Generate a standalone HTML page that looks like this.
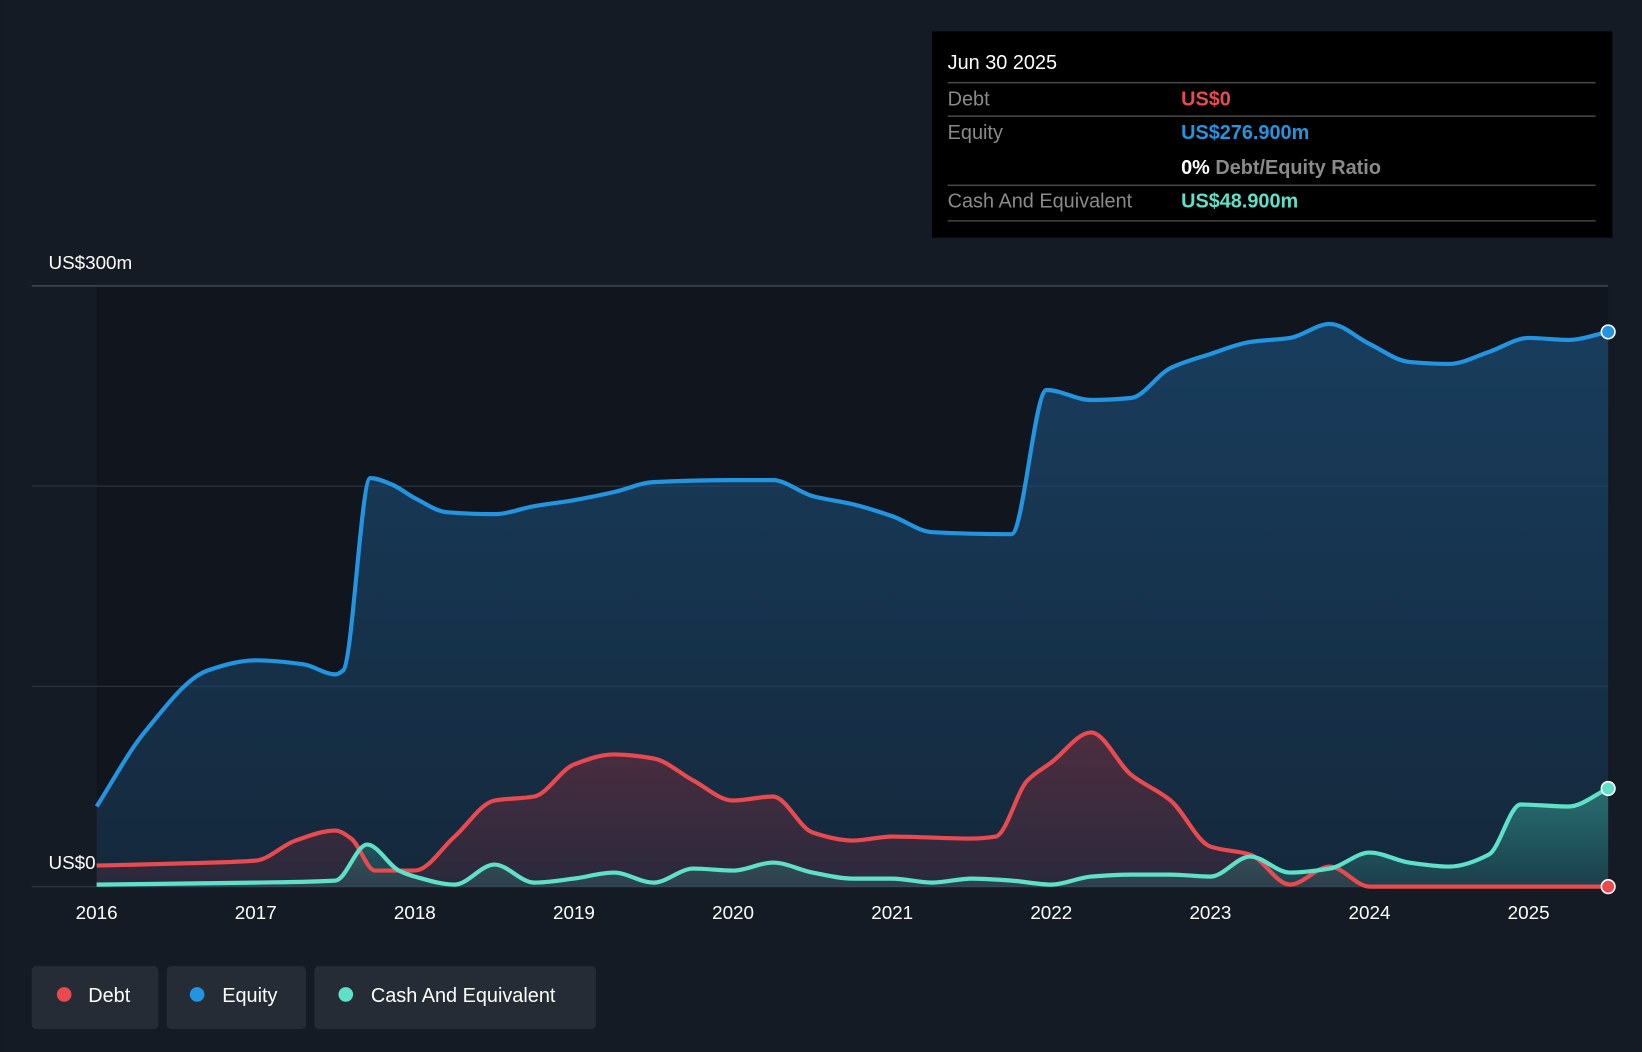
<!DOCTYPE html>
<html><head><meta charset="utf-8"><style>
html,body{margin:0;padding:0;background:#151b24;}
svg{display:block;font-family:"Liberation Sans",sans-serif;}
</style></head><body>
<svg id="chart" width="1642" height="1052" viewBox="0 0 1568 1005" xmlns="http://www.w3.org/2000/svg">
<defs>
<linearGradient id="gE" x1="0" y1="0" x2="0" y2="1"><stop offset="0" stop-color="#1b4a72" stop-opacity="0.75"/><stop offset="1" stop-color="#1b4a72" stop-opacity="0.35"/></linearGradient>
<linearGradient id="gD" x1="0" y1="0" x2="0" y2="1"><stop offset="0" stop-color="#7a2d3a" stop-opacity="0.55"/><stop offset="1" stop-color="#7a2d3a" stop-opacity="0.2"/></linearGradient>
<linearGradient id="gC" x1="0" y1="0" x2="0" y2="1"><stop offset="0" stop-color="#3fbfa8" stop-opacity="0.45"/><stop offset="1" stop-color="#3fbfa8" stop-opacity="0.15"/></linearGradient>
</defs>
<rect x="0" y="0" width="1568" height="1005" fill="#151b24"/>
<rect x="92" y="273" width="1444" height="574" fill="#11161e"/>
<g id="grid"></g>
<g id="areas"></g>
<g id="lines"></g>
<g id="xaxis"></g>
<text x="46" y="257" fill="#fff" font-size="18">US$300m</text>
<text x="46" y="830" fill="#fff" font-size="18">US$0</text>

<g>
<rect x="890" y="30" width="650" height="197" fill="#000"/>
<text x="905" y="66" fill="#fff" font-size="19">Jun 30 2025</text>
<line x1="905" x2="1524" y1="79" y2="79" stroke="#444" stroke-width="1.5"/>
<text x="905" y="101" fill="#8a8a8a" font-size="19">Debt</text>
<text x="1128" y="101" fill="#e84a4f" font-size="19" font-weight="bold">US$0</text>
<line x1="905" x2="1524" y1="111" y2="111" stroke="#444" stroke-width="1.5"/>
<text x="905" y="133" fill="#8a8a8a" font-size="19">Equity</text>
<text x="1128" y="133" fill="#2394df" font-size="19" font-weight="bold">US$276.900m</text>
<text x="1128" y="166" fill="#fff" font-size="19" font-weight="bold">0% <tspan fill="#8a8a8a">Debt/Equity Ratio</tspan></text>
<line x1="905" x2="1524" y1="177" y2="177" stroke="#444" stroke-width="1.5"/>
<text x="905" y="198" fill="#8a8a8a" font-size="19">Cash And Equivalent</text>
<text x="1128" y="198" fill="#5fe0c8" font-size="19" font-weight="bold">US$48.900m</text>
<line x1="905" x2="1524" y1="211" y2="211" stroke="#444" stroke-width="1.5"/>
</g>

<g>
<rect x="30" y="923" width="121" height="60" rx="4" fill="#262c36"/>
<circle cx="61" cy="950" r="7" fill="#e84a4f"/>
<text x="84" y="957" fill="#fff" font-size="19">Debt</text>
</g>
<g>
<rect x="159" y="923" width="133" height="60" rx="4" fill="#262c36"/>
<circle cx="188" cy="950" r="7" fill="#2394df"/>
<text x="212" y="957" fill="#fff" font-size="19">Equity</text>
</g>
<g>
<rect x="300" y="923" width="269" height="60" rx="4" fill="#262c36"/>
<circle cx="330" cy="950" r="7" fill="#5fe0c8"/>
<text x="354" y="957" fill="#fff" font-size="19">Cash And Equivalent</text>
</g>
</svg>
<script>
const equityT=[2016.0,2016.3,2016.7,2017.0,2017.3,2017.5,2017.55,2017.72,2017.85,2018.0,2018.2,2018.5,2018.75,2019.0,2019.25,2019.5,2020.0,2020.25,2020.5,2020.75,2021.0,2021.25,2021.75,2021.97,2022.25,2022.5,2022.75,2023.0,2023.25,2023.5,2023.75,2024.0,2024.25,2024.5,2024.75,2025.0,2025.25,2025.5];
const equityV=[40,77,108,113,111,106,108,204,201,194,187,186,190,193,197,202,203,203,195,191,185,177,176,248,243,244,259,266,272,274,281,271,262,261,267,274,273,277];
const debtT=[2016.0,2016.5,2017.0,2017.25,2017.5,2017.6,2017.75,2018.0,2018.25,2018.5,2018.75,2019.0,2019.25,2019.5,2019.75,2020.0,2020.25,2020.5,2020.75,2021.0,2021.5,2021.65,2021.85,2022.0,2022.25,2022.5,2022.75,2023.0,2023.25,2023.5,2023.75,2024.0,2024.5,2025.0,2025.5];
const debtV=[10.5,11.5,13,23,28,24,8,8,25,43,45,61,66,64,53,43,45,27,23,25,24,25,53,62,77,56,43,20,16,1,10,0,0,0,0];
const cashT=[2016.0,2017.0,2017.5,2017.7,2017.9,2018.0,2018.25,2018.5,2018.75,2019.0,2019.25,2019.5,2019.75,2020.0,2020.25,2020.5,2020.75,2021.0,2021.25,2021.5,2021.75,2022.0,2022.25,2022.5,2022.75,2023.0,2023.25,2023.5,2023.75,2024.0,2024.25,2024.5,2024.75,2024.95,2025.25,2025.5];
const cashV=[1,2,3,21,8,5,1,11,2,4,7,2,9,8,12,7,4,4,2,4,3,1,5,6,6,5,15,7,9,17,12,10,16,41,40,49];
const yearTicks=[2016,2017,2018,2019,2020,2021,2022,2023,2024,2025];
const gridVals=[0,100,200,300];

const NS="http://www.w3.org/2000/svg";
const X=t=>92+(t-2016)*152.0;
const Y=v=>847-v*1.913;
function mk(tag,attrs,parent){const e=document.createElementNS(NS,tag);for(const k in attrs)e.setAttribute(k,attrs[k]);parent.appendChild(e);return e;}
function pathD(T,V){
  const x=T.map(X),y=V.map(Y),n=x.length;
  const dx=[],s=[];
  for(let i=0;i<n-1;i++){dx.push(x[i+1]-x[i]);s.push((y[i+1]-y[i])/dx[i]);}
  const m=new Array(n);
  m[0]=s[0];m[n-1]=s[n-2];
  for(let i=1;i<n-1;i++){
    if(s[i-1]*s[i]<=0)m[i]=0;
    else{const w1=2*dx[i]+dx[i-1],w2=dx[i]+2*dx[i-1];m[i]=(w1+w2)/(w1/s[i-1]+w2/s[i]);}
  }
  let d="M"+x[0]+","+y[0];
  for(let i=0;i<n-1;i++){
    const h=dx[i]/3;
    d+=" C"+(x[i]+h)+","+(y[i]+m[i]*h)+" "+(x[i+1]-h)+","+(y[i+1]-m[i+1]*h)+" "+x[i+1]+","+y[i+1];
  }
  return d;
}
const grid=document.getElementById('grid');
gridVals.forEach(v=>{
  const l=mk('line',{x1:30,x2:1536,y1:Y(v),y2:Y(v),stroke:v===300?'#4a505a':'#2c333d','stroke-width':v===0?1.5:1.2},grid);
  
  
});
const xa=document.getElementById('xaxis');
yearTicks.forEach(y=>{
  const t=mk('text',{x:X(y),y:878,fill:'#fff','font-size':18,'text-anchor':'middle'},xa);
  t.textContent=y;
  
  
});
const areas=document.getElementById('areas'),lines=document.getElementById('lines');
const series=[[equityT,equityV,'#2394df','url(#gE)','equity'],[debtT,debtV,'#e84a4f','url(#gD)','debt'],[cashT,cashV,'#5fe0c8','url(#gC)','cash']];
series.forEach(([T,V,c,f,n])=>{
  const d=pathD(T,V);
  const a=mk('path',{d:d+" L"+X(T[T.length-1])+","+Y(0)+" L"+X(T[0])+","+Y(0)+" Z",fill:f},areas);
  
  
  const l=mk('path',{d:d,fill:'none',stroke:c,'stroke-width':4,'stroke-linejoin':'round'},lines);
  
  
  const dot=mk('circle',{cx:X(T[T.length-1]),cy:Y(V[V.length-1]),r:6.5,fill:c,stroke:'#fff','stroke-width':1.5},lines);
  
  
});
</script>
</body></html>
